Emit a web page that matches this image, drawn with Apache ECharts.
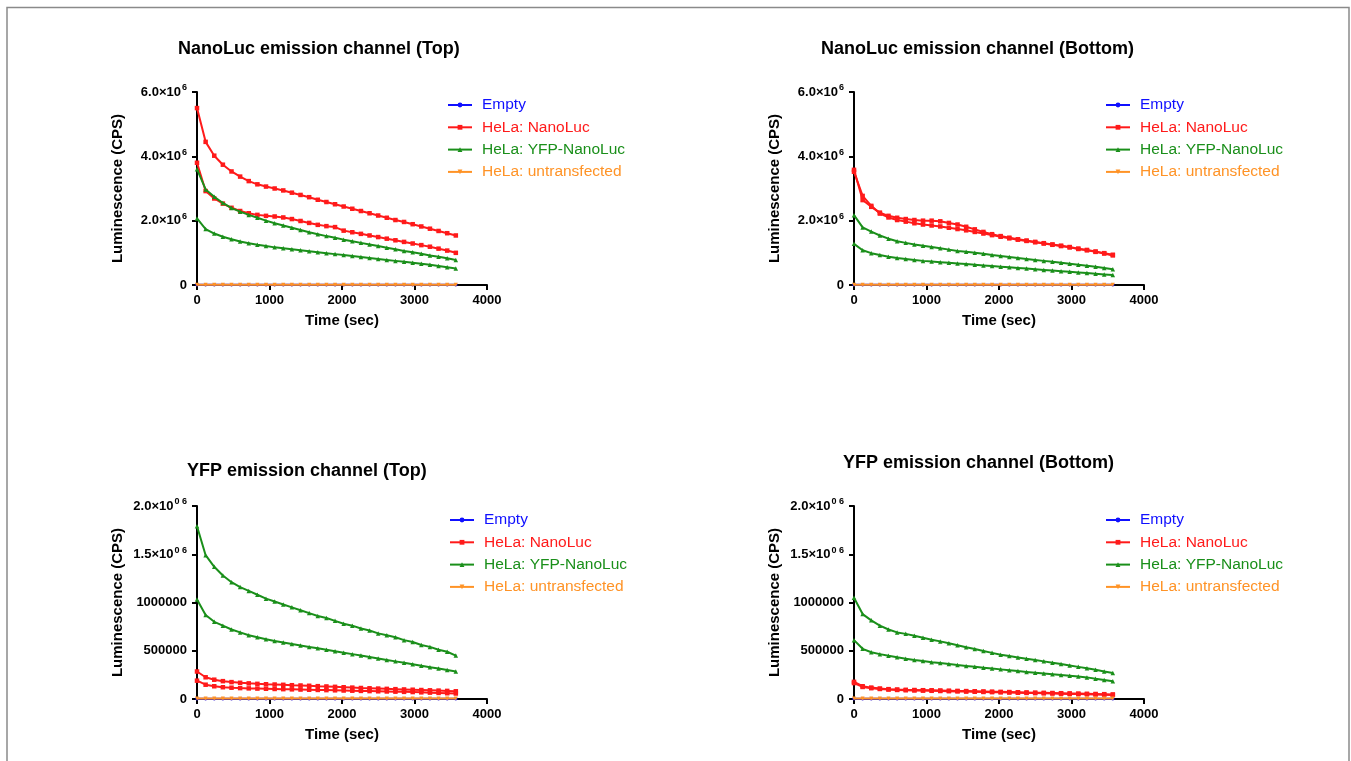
<!DOCTYPE html>
<html>
<head>
<meta charset="utf-8">
<script src="https://cdn.jsdelivr.net/npm/echarts@6/dist/echarts.min.js"></script>
<style>
html,body{margin:0;padding:0;background:#fff;}
#chart{width:1351px;height:761px;}
</style>
</head>
<body>
<div id="chart"></div>
<script>
// ---------------- DATA ----------------
const times = [0,119,238,357,476,595,714,833,952,1071,1190,1309,1428,1547,1666,1785,1904,2023,2142,2261,2380,2499,2618,2737,2856,2975,3094,3213,3332,3451,3570];

const seriesNames = ['Empty','HeLa: NanoLuc','HeLa: YFP-NanoLuc','HeLa: untransfected'];
const panelTitles = ['NanoLuc emission channel (Top)','NanoLuc emission channel (Bottom)','YFP emission channel (Top)','YFP emission channel (Bottom)'];
const xTicks = [0,1000,2000,3000,4000];
const xTickLabels = ['0','1000','2000','3000','4000'];
const yTicksNano = [0,2e6,4e6,6e6];
const yTickLabelsNano = ['0','2.0×10{s|6}','4.0×10{s|6}','6.0×10{s|6}'];
const yTicksYfp = [0,500000,1000000,1500000,2000000];
const yTickLabelsYfp = ['0','500000','1000000','1.5×10{s|0 6}','2.0×10{s|0 6}'];
const unit = 1e6; // values below are in millions of CPS

// NanoLuc emission channel (Top)
const nlTop_NanoLuc_a = [5.50,4.45,4.02,3.74,3.53,3.37,3.23,3.13,3.06,3.00,2.94,2.87,2.80,2.73,2.65,2.58,2.51,2.44,2.37,2.30,2.23,2.16,2.09,2.02,1.96,1.89,1.82,1.75,1.68,1.61,1.54];
const nlTop_NanoLuc_b = [3.80,2.92,2.69,2.53,2.40,2.30,2.23,2.18,2.15,2.13,2.10,2.05,1.99,1.93,1.87,1.83,1.80,1.69,1.64,1.59,1.54,1.49,1.44,1.39,1.34,1.29,1.24,1.19,1.13,1.07,1.00];
const nlTop_YFP_a = [3.60,2.97,2.74,2.55,2.39,2.28,2.18,2.09,2.00,1.92,1.85,1.78,1.71,1.64,1.58,1.52,1.47,1.41,1.36,1.31,1.26,1.21,1.16,1.11,1.06,1.02,0.97,0.92,0.88,0.83,0.78];
const nlTop_YFP_b = [2.07,1.74,1.60,1.50,1.42,1.35,1.30,1.25,1.21,1.17,1.14,1.11,1.08,1.05,1.02,0.99,0.96,0.93,0.90,0.87,0.84,0.81,0.78,0.75,0.72,0.69,0.66,0.63,0.59,0.55,0.51];
const nlTop_Empty = [0.004,0.004,0.004,0.004,0.004,0.004,0.004,0.004,0.004,0.004,0.004,0.004,0.004,0.004,0.004,0.004,0.004,0.004,0.004,0.004,0.004,0.004,0.004,0.004,0.004,0.004,0.004,0.004,0.004,0.004,0.004];
const nlTop_Untr = [0.006,0.006,0.006,0.006,0.006,0.006,0.006,0.006,0.006,0.006,0.006,0.006,0.006,0.006,0.006,0.006,0.006,0.006,0.006,0.006,0.006,0.006,0.006,0.006,0.006,0.006,0.006,0.006,0.006,0.006,0.006];

// NanoLuc emission channel (Bottom)
const nlBot_NanoLuc_a = [3.58,2.64,2.43,2.25,2.15,2.09,2.05,2.02,2.00,2.00,1.98,1.93,1.88,1.81,1.73,1.65,1.58,1.52,1.47,1.42,1.38,1.34,1.30,1.26,1.22,1.18,1.13,1.09,1.04,0.99,0.94];
const nlBot_NanoLuc_b = [3.52,2.77,2.46,2.22,2.10,2.02,1.97,1.92,1.88,1.85,1.82,1.78,1.74,1.70,1.65,1.60,1.55,1.50,1.45,1.41,1.37,1.33,1.29,1.25,1.21,1.17,1.12,1.08,1.03,0.98,0.92];
const nlBot_YFP_a = [2.17,1.79,1.66,1.54,1.44,1.36,1.31,1.26,1.22,1.18,1.14,1.10,1.06,1.03,1.00,0.97,0.93,0.90,0.87,0.84,0.81,0.78,0.75,0.72,0.69,0.66,0.63,0.60,0.57,0.53,0.49];
const nlBot_YFP_b = [1.28,1.08,0.99,0.93,0.88,0.84,0.81,0.78,0.75,0.73,0.71,0.69,0.67,0.65,0.63,0.61,0.59,0.57,0.55,0.53,0.51,0.49,0.47,0.45,0.43,0.41,0.39,0.37,0.35,0.33,0.31];
const nlBot_Empty = [0.004,0.004,0.004,0.004,0.004,0.004,0.004,0.004,0.004,0.004,0.004,0.004,0.004,0.004,0.004,0.004,0.004,0.004,0.004,0.004,0.004,0.004,0.004,0.004,0.004,0.004,0.004,0.004,0.004,0.004,0.004];
const nlBot_Untr = [0.006,0.006,0.006,0.006,0.006,0.006,0.006,0.006,0.006,0.006,0.006,0.006,0.006,0.006,0.006,0.006,0.006,0.006,0.006,0.006,0.006,0.006,0.006,0.006,0.006,0.006,0.006,0.006,0.006,0.006,0.006];

// YFP emission channel (Top)
const yfpTop_NanoLuc_a = [0.285,0.225,0.200,0.185,0.175,0.168,0.162,0.157,0.153,0.150,0.147,0.143,0.140,0.137,0.133,0.130,0.126,0.122,0.118,0.114,0.111,0.108,0.105,0.102,0.099,0.096,0.093,0.090,0.087,0.084,0.080];
const yfpTop_NanoLuc_b = [0.190,0.148,0.132,0.122,0.117,0.113,0.110,0.108,0.106,0.104,0.102,0.100,0.098,0.096,0.094,0.092,0.090,0.088,0.086,0.084,0.082,0.080,0.078,0.076,0.074,0.072,0.069,0.066,0.063,0.060,0.057];
const yfpTop_YFP_a = [1.79,1.49,1.37,1.28,1.21,1.16,1.12,1.08,1.04,1.01,0.98,0.95,0.92,0.89,0.86,0.84,0.81,0.78,0.76,0.73,0.71,0.68,0.66,0.64,0.61,0.59,0.56,0.54,0.51,0.49,0.45];
const yfpTop_YFP_b = [1.03,0.87,0.80,0.76,0.72,0.69,0.66,0.64,0.62,0.60,0.585,0.57,0.555,0.54,0.525,0.51,0.495,0.48,0.465,0.45,0.435,0.42,0.405,0.39,0.375,0.36,0.345,0.33,0.315,0.30,0.285];
const yfpTop_Empty = [0.002,0.002,0.002,0.002,0.002,0.002,0.002,0.002,0.002,0.002,0.002,0.002,0.002,0.002,0.002,0.002,0.002,0.002,0.002,0.002,0.002,0.002,0.002,0.002,0.002,0.002,0.002,0.002,0.002,0.002,0.002];
const yfpTop_Untr = [0.004,0.004,0.004,0.004,0.004,0.004,0.004,0.004,0.004,0.004,0.004,0.004,0.004,0.004,0.004,0.004,0.004,0.004,0.004,0.004,0.004,0.004,0.004,0.004,0.004,0.004,0.004,0.004,0.004,0.004,0.004];

// YFP emission channel (Bottom)
const yfpBot_NanoLuc_a = [0.178,0.132,0.118,0.108,0.102,0.098,0.095,0.093,0.091,0.090,0.088,0.086,0.084,0.082,0.080,0.078,0.076,0.074,0.072,0.070,0.068,0.066,0.064,0.062,0.060,0.058,0.056,0.054,0.052,0.050,0.047];
const yfpBot_NanoLuc_b = [0.165,0.125,0.112,0.104,0.098,0.094,0.091,0.089,0.087,0.085,0.083,0.081,0.079,0.077,0.075,0.073,0.071,0.069,0.067,0.065,0.063,0.061,0.059,0.057,0.055,0.053,0.051,0.049,0.047,0.045,0.042];
const yfpBot_YFP_a = [1.05,0.88,0.815,0.76,0.72,0.69,0.675,0.655,0.635,0.615,0.597,0.577,0.557,0.537,0.518,0.498,0.478,0.459,0.445,0.431,0.417,0.404,0.390,0.376,0.362,0.348,0.333,0.318,0.302,0.286,0.269];
const yfpBot_YFP_b = [0.61,0.52,0.485,0.465,0.448,0.432,0.418,0.405,0.393,0.382,0.372,0.362,0.352,0.343,0.334,0.325,0.316,0.307,0.298,0.289,0.281,0.273,0.265,0.257,0.249,0.241,0.233,0.224,0.210,0.198,0.183];
const yfpBot_Empty = [0.002,0.002,0.002,0.002,0.002,0.002,0.002,0.002,0.002,0.002,0.002,0.002,0.002,0.002,0.002,0.002,0.002,0.002,0.002,0.002,0.002,0.002,0.002,0.002,0.002,0.002,0.002,0.002,0.002,0.002,0.002];
const yfpBot_Untr = [0.004,0.004,0.004,0.004,0.004,0.004,0.004,0.004,0.004,0.004,0.004,0.004,0.004,0.004,0.004,0.004,0.004,0.004,0.004,0.004,0.004,0.004,0.004,0.004,0.004,0.004,0.004,0.004,0.004,0.004,0.004];

// ---------------- STYLE ----------------
const FONT = '"Liberation Sans", Arial, sans-serif';
const colors = ['#1010ff','#ff1a1a','#1a8f1a','#ff9326'];
const symbols = ['circle','rect','triangle','triangle'];
const symbolSizes = [3.5,4.5,4.5,4];
const symbolRotates = [0,0,0,180];

const panels = [
  {title: panelTitles[0], tx: 178, ty: 40, left: 197, top: 92, lx: 447, ly: 97, yMax: 6e6, yInt: 2e6, ticks: yTicksNano, labels: yTickLabelsNano,
   groups: [[nlTop_Empty],[nlTop_NanoLuc_a,nlTop_NanoLuc_b],[nlTop_YFP_a,nlTop_YFP_b],[nlTop_Untr]]},
  {title: panelTitles[1], tx: 821, ty: 40, left: 854, top: 92, lx: 1105, ly: 97, yMax: 6e6, yInt: 2e6, ticks: yTicksNano, labels: yTickLabelsNano,
   groups: [[nlBot_Empty],[nlBot_NanoLuc_a,nlBot_NanoLuc_b],[nlBot_YFP_a,nlBot_YFP_b],[nlBot_Untr]]},
  {title: panelTitles[2], tx: 187, ty: 462, left: 197, top: 506, lx: 449, ly: 512, yMax: 2e6, yInt: 5e5, ticks: yTicksYfp, labels: yTickLabelsYfp,
   groups: [[yfpTop_Empty],[yfpTop_NanoLuc_a,yfpTop_NanoLuc_b],[yfpTop_YFP_a,yfpTop_YFP_b],[yfpTop_Untr]]},
  {title: panelTitles[3], tx: 843, ty: 454, left: 854, top: 506, lx: 1105, ly: 512, yMax: 2e6, yInt: 5e5, ticks: yTicksYfp, labels: yTickLabelsYfp,
   groups: [[yfpBot_Empty],[yfpBot_NanoLuc_a,yfpBot_NanoLuc_b],[yfpBot_YFP_a,yfpBot_YFP_b],[yfpBot_Untr]]}
];

const option = {
  backgroundColor: '#fff',
  animation: false,
  title: [], legend: [], grid: [], xAxis: [], yAxis: [], series: [],
  graphic: [{
    type: 'polyline', silent: true,
    shape: {points: [[7,761],[7,7.5],[1349,7.5],[1349,761]]},
    style: {stroke: '#8a8a8a', lineWidth: 1.5, fill: null}
  }]
};

panels.forEach((p, i) => {
  option.title.push({
    text: p.title, left: p.tx, top: p.ty, padding: 0,
    textStyle: {fontFamily: FONT, fontWeight: 'bold', fontSize: 18, color: '#000'}
  });
  option.grid.push({left: p.left, top: p.top, width: 290, height: 193, containLabel: false});
  option.xAxis.push({
    type: 'value', gridIndex: i, min: 0, max: 4000, interval: 1000,
    name: 'Time (sec)', nameLocation: 'middle', nameGap: 28,
    nameTextStyle: {fontFamily: FONT, fontWeight: 'bold', fontSize: 15, color: '#000'},
    axisLine: {show: true, lineStyle: {color: '#000', width: 2}},
    axisTick: {show: true, length: 5, lineStyle: {color: '#000', width: 2}},
    axisLabel: {fontFamily: FONT, fontWeight: 'bold', fontSize: 13, color: '#000', margin: 9,
      formatter: v => { const k = xTicks.indexOf(v); return k >= 0 ? xTickLabels[k] : ''; }},
    splitLine: {show: false}
  });
  option.yAxis.push({
    type: 'value', gridIndex: i, min: 0, max: p.yMax, interval: p.yInt,
    name: 'Luminescence (CPS)', nameLocation: 'middle', nameGap: 72, nameRotate: 90,
    nameTextStyle: {fontFamily: FONT, fontWeight: 'bold', fontSize: 15, color: '#000'},
    axisLine: {show: true, lineStyle: {color: '#000', width: 2}},
    axisTick: {show: true, length: 5, lineStyle: {color: '#000', width: 2}},
    axisLabel: {
      fontFamily: FONT, fontWeight: 'bold', fontSize: 13, color: '#000', margin: 10,
      formatter: v => { const k = p.ticks.indexOf(v); return k >= 0 ? p.labels[k] : ''; },
      rich: {s: {fontFamily: FONT, fontWeight: 'bold', fontSize: 9, color: '#000', verticalAlign: 'top', padding: [0,0,8,1]}}
    },
    splitLine: {show: false}
  });
  option.legend.push({
    orient: 'vertical', left: p.lx, top: p.ly, padding: 0, itemWidth: 24, itemHeight: 6, itemGap: 6.3,
    data: seriesNames.map((n, k) => ({name: n, textStyle: {color: colors[k]}})),
    textStyle: {fontFamily: FONT, fontSize: 15.5, lineHeight: 16, padding: [0,0,0,5]},
    selectedMode: false
  });
  p.groups.forEach((reps, g) => {
    reps.forEach(vals => {
      option.series.push({
        type: 'line', name: seriesNames[g], xAxisIndex: i, yAxisIndex: i,
        data: times.map((t, j) => [t, vals[j] * unit]),
        symbol: symbols[g], symbolSize: symbolSizes[g], symbolRotate: symbolRotates[g],
        showSymbol: true,
        lineStyle: {color: colors[g], width: 2},
        itemStyle: {color: colors[g]},
        z: 2 + g
      });
    });
  });
});

const chart = echarts.init(document.getElementById('chart'), null, {renderer: 'canvas'});
chart.setOption(option);
</script>
</body>
</html>
